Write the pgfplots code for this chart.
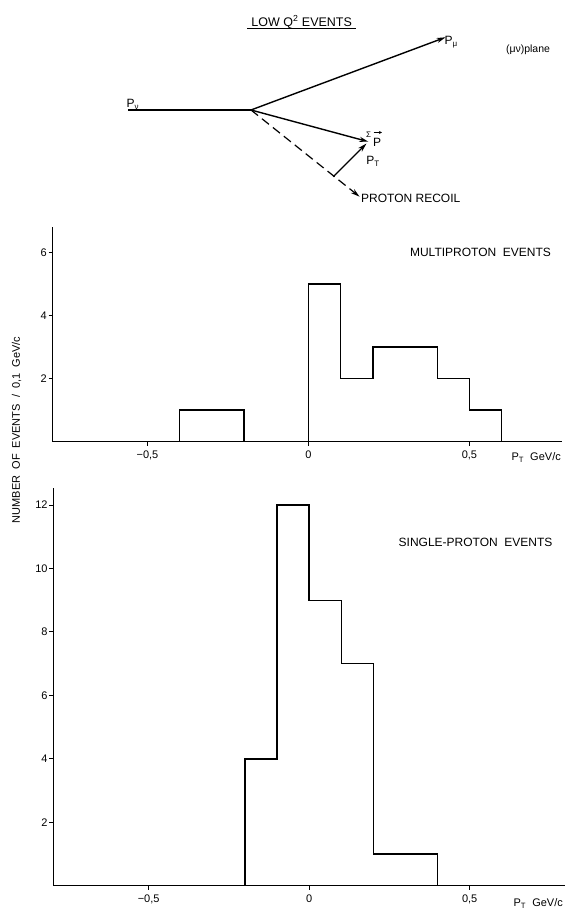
\documentclass[border=0pt]{standalone}
\usepackage{pgfplots}
\pgfplotsset{compat=1.18}
\usepackage{fontspec}
\setmainfont{Liberation Sans}
\usetikzlibrary{arrows.meta}

\pgfplotsset{histo/.style={
    scale only axis, anchor=south west, clip=false,
    axis lines=left, axis line style={-, line width=1.2pt},
    tick align=outside, major tick length=4pt,
    tick style={line width=1pt, black},
    xtick={-0.5,0,0.5}, xticklabels={{−0,5},{0},{0,5}},
    /pgf/number format/assume math mode=true,
    ticklabel style={font=\fontsize{11}{12}\selectfont},
    xticklabel style={yshift=-2pt},
    yticklabel style={inner sep=1.5pt},
}}

\begin{document}
\begin{tikzpicture}[x=1pt,y=1pt]
\useasboundingbox (0pt,0pt) rectangle (570pt,913pt);

% multiproton events
\begin{axis}[histo, at={(52.5pt,471.3pt)}, width=509pt, height=214.4pt,
    xmin=-0.795, xmax=0.786, ymin=0, ymax=6.8, ytick={2,4,6}]
\addplot[const plot, line width=1.4pt, black] coordinates {
    (-0.4,0) (-0.4,1) (-0.2,0) (0,5) (0.1,2) (0.2,3) (0.4,2) (0.5,1) (0.6,0)
};
\node[anchor=base west, yshift=-19pt, font=\fontsize{11}{12}\selectfont]
    at (axis cs:0.62,0) {P\textsubscript{T}~~GeV/c};
\end{axis}

% single-proton events
\begin{axis}[histo, at={(53.3pt,27.3pt)}, width=511.7pt, height=397.4pt,
    xmin=-0.797, xmax=0.797, ymin=0, ymax=12.53, ytick={2,4,...,12}]
\addplot[const plot, line width=1.4pt, black] coordinates {
    (-0.2,0) (-0.2,4) (-0.1,12) (0,9) (0.1,7) (0.2,1) (0.4,0)
};
\node[anchor=base west, yshift=-21pt, font=\fontsize{11}{12}\selectfont]
    at (axis cs:0.626,0) {P\textsubscript{T}~~GeV/c};
\end{axis}

\node[anchor=east, font=\fontsize{12}{14}\selectfont] at (554.5pt,660.5pt) {MULTIPROTON~~EVENTS};
\node[anchor=east, font=\fontsize{12}{14}\selectfont] at (556pt,370.3pt) {SINGLE-PROTON~~EVENTS};
\node[rotate=90, font=\fontsize{11}{12}\selectfont] at (16.5pt,483pt) {NUMBER~~OF~~EVENTS~~/~~0,1~~GeV/c};

% kinematics sketch
\node[font=\fontsize{12.5}{14}\selectfont] at (301.7pt,891pt) {LOW Q\textsuperscript{2} EVENTS};
\draw[line width=0.8pt] (247.4pt,884.5pt) -- (356pt,884.5pt);

\draw[line width=1.4pt] (128pt,803pt) -- (251pt,803pt);
\node[anchor=south west, inner sep=0.5pt, font=\fontsize{12}{14}\selectfont] at (126pt,803pt) {P\textsubscript{ν}};
\draw[line width=1.4pt, -{Stealth[length=9pt,width=5pt]}] (251pt,803pt) -- (445.6pt,875.7pt);
\node[anchor=west, inner sep=0.5pt, font=\fontsize{12}{14}\selectfont] at (444pt,871pt) {P\textsubscript{μ}};
\node[font=\fontsize{10.5}{12}\selectfont] at (528pt,863pt) {(μν)plane};

\draw[line width=1.4pt, -{Stealth[length=9pt,width=5pt]}] (251pt,803pt) -- (368.4pt,771.3pt);
\node[font=\fontsize{8}{9}\selectfont] at (368.5pt,778.5pt) {Σ};
\node[font=\fontsize{12}{14}\selectfont] at (377.2pt,770.5pt) {P};
\draw[line width=0.8pt, -{Stealth[length=3pt,width=3pt]}] (373.5pt,780.5pt) -- (382pt,780.5pt);

\draw[line width=1.4pt, -{Stealth[length=9pt,width=5pt]}] (333.3pt,736.3pt) -- (366.5pt,769.5pt);
\node[font=\fontsize{12}{14}\selectfont] at (373pt,752pt) {P\textsubscript{T}};

\draw[line width=1.2pt, dash pattern=on 9pt off 5pt, -{Stealth[length=9pt,width=5pt]}] (251pt,803pt) -- (359.6pt,716.3pt);
\node[anchor=west, inner sep=1pt, font=\fontsize{12}{14}\selectfont] at (360pt,714.7pt) {PROTON RECOIL};
\end{tikzpicture}
\end{document}
